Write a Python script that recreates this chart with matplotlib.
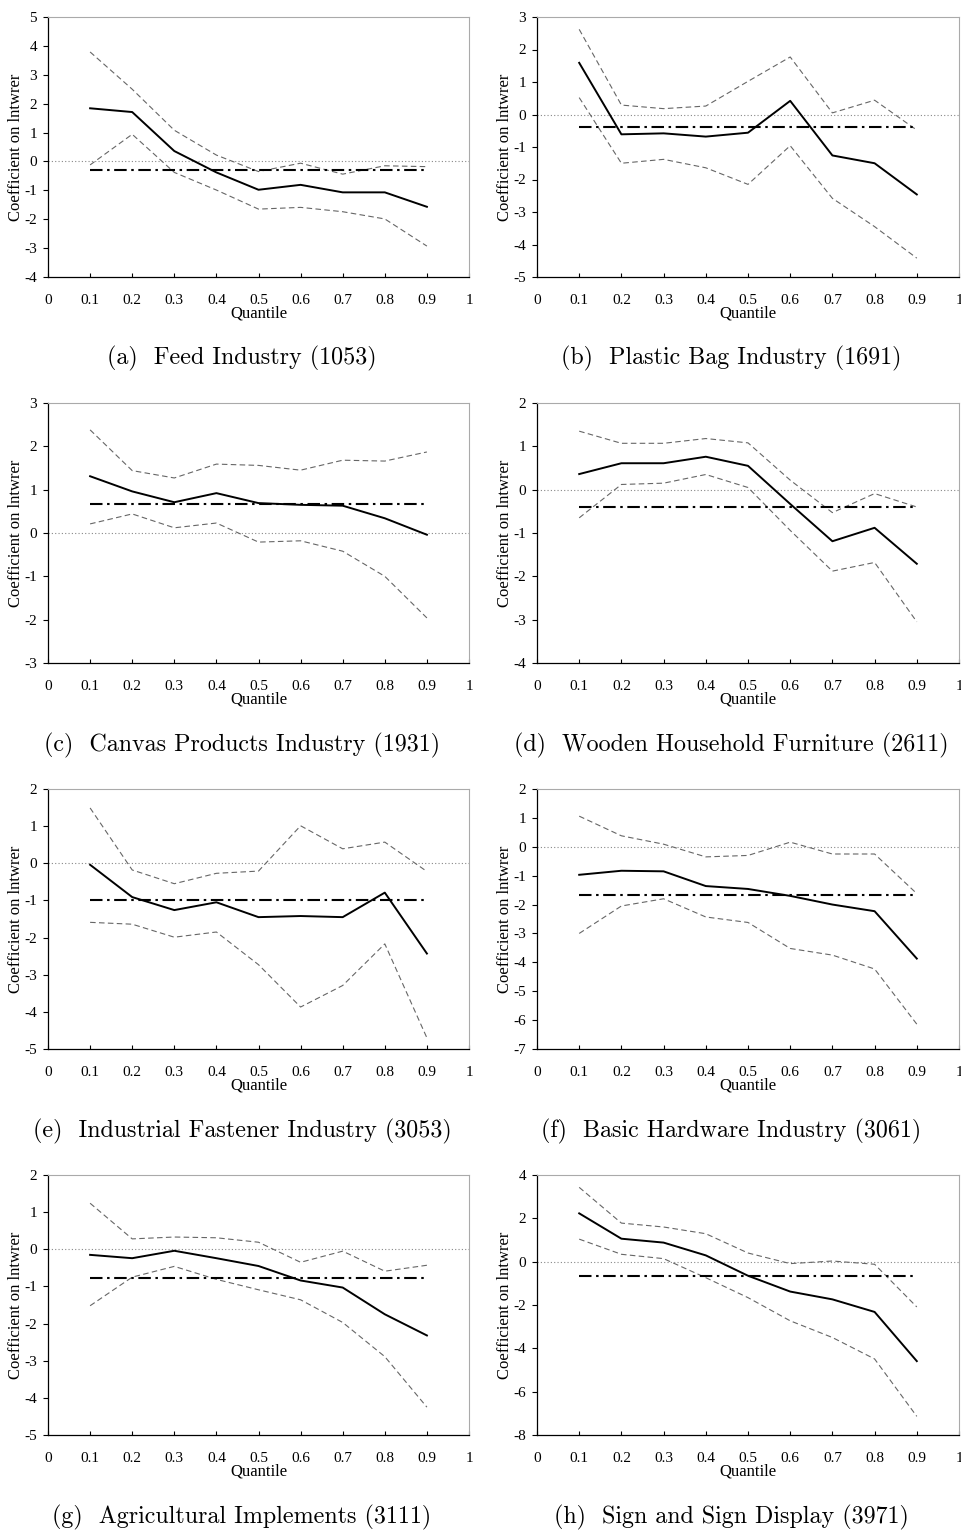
import numpy as np
import matplotlib
matplotlib.use('Agg')
import matplotlib.pyplot as plt

plt.rcParams['font.family'] = ['Liberation Serif', 'DejaVu Serif']
plt.rcParams['axes.unicode_minus'] = False

quantiles = [0.1, 0.2, 0.3, 0.4, 0.5, 0.6, 0.7, 0.8, 0.9]

# (a) Feed Industry
feed_coef = [1.84, 1.71, 0.36, -0.38, -0.98, -0.81, -1.07, -1.07, -1.57]
feed_hi = [3.79, 2.50, 1.08, 0.22, -0.35, -0.06, -0.44, -0.15, -0.18]
feed_lo = [-0.12, 0.94, -0.38, -0.99, -1.65, -1.59, -1.74, -1.99, -2.93]
feed_ols = -0.28

# (b) Plastic Bag Industry
bag_coef = [1.59, -0.61, -0.58, -0.68, -0.56, 0.42, -1.26, -1.50, -2.46]
bag_hi = [2.62, 0.29, 0.18, 0.26, 1.02, 1.77, 0.05, 0.44, -0.48]
bag_lo = [0.52, -1.50, -1.38, -1.64, -2.15, -0.96, -2.58, -3.45, -4.42]
bag_ols = -0.39

# (c) Canvas Products Industry
canvas_coef = [1.31, 0.96, 0.71, 0.92, 0.69, 0.65, 0.63, 0.34, -0.04]
canvas_hi = [2.38, 1.44, 1.27, 1.59, 1.56, 1.45, 1.68, 1.66, 1.87]
canvas_lo = [0.21, 0.44, 0.12, 0.23, -0.21, -0.18, -0.42, -1.00, -1.96]
canvas_ols = 0.68

# (d) Wooden Household Furniture
wood_coef = [0.36, 0.61, 0.61, 0.76, 0.55, -0.33, -1.19, -0.88, -1.71]
wood_hi = [1.35, 1.07, 1.07, 1.18, 1.08, 0.22, -0.53, -0.09, -0.40]
wood_lo = [-0.65, 0.12, 0.15, 0.35, 0.05, -0.94, -1.88, -1.68, -3.05]
wood_ols = -0.40

# (e) Industrial Fastener Industry
fast_coef = [-0.04, -0.91, -1.26, -1.05, -1.45, -1.42, -1.45, -0.79, -2.43]
fast_hi = [1.49, -0.18, -0.55, -0.27, -0.21, 1.01, 0.39, 0.57, -0.22]
fast_lo = [-1.59, -1.64, -1.99, -1.85, -2.73, -3.87, -3.29, -2.17, -4.70]
fast_ols = -0.98

# (f) Basic Hardware Industry
hard_coef = [-0.97, -0.83, -0.85, -1.36, -1.46, -1.70, -2.00, -2.23, -3.87]
hard_hi = [1.06, 0.38, 0.09, -0.35, -0.30, 0.16, -0.25, -0.25, -1.62]
hard_lo = [-3.00, -2.05, -1.80, -2.43, -2.62, -3.52, -3.75, -4.23, -6.14]
hard_ols = -1.66

# (g) Agricultural Implements
agri_coef = [-0.15, -0.24, -0.04, -0.24, -0.45, -0.84, -1.03, -1.75, -2.32]
agri_hi = [1.24, 0.28, 0.33, 0.31, 0.19, -0.35, -0.05, -0.59, -0.43]
agri_lo = [-1.52, -0.75, -0.46, -0.81, -1.09, -1.36, -1.97, -2.89, -4.25]
agri_ols = -0.77

# (h) Sign and Sign Display
sign_coef = [2.23, 1.06, 0.88, 0.29, -0.65, -1.38, -1.74, -2.32, -4.59]
sign_hi = [3.43, 1.78, 1.60, 1.29, 0.40, -0.09, 0.03, -0.12, -2.09]
sign_lo = [1.04, 0.34, 0.14, -0.74, -1.66, -2.73, -3.50, -4.49, -7.14]
sign_ols = -0.66

captions = ['(a)  Feed Industry (1053)', '(b)  Plastic Bag Industry (1691)',
            '(c)  Canvas Products Industry (1931)', '(d)  Wooden Household Furniture (2611)',
            '(e)  Industrial Fastener Industry (3053)', '(f)  Basic Hardware Industry (3061)',
            '(g)  Agricultural Implements (3111)', '(h)  Sign and Sign Display (3971)']
ylims = [(-4, 5), (-5, 3), (-3, 3), (-4, 2), (-5, 2), (-7, 2), (-5, 2), (-8, 4)]
ysteps = [1, 1, 1, 1, 1, 1, 1, 2]

panels = [(feed_coef, feed_hi, feed_lo, feed_ols),
          (bag_coef, bag_hi, bag_lo, bag_ols),
          (canvas_coef, canvas_hi, canvas_lo, canvas_ols),
          (wood_coef, wood_hi, wood_lo, wood_ols),
          (fast_coef, fast_hi, fast_lo, fast_ols),
          (hard_coef, hard_hi, hard_lo, hard_ols),
          (agri_coef, agri_hi, agri_lo, agri_ols),
          (sign_coef, sign_hi, sign_lo, sign_ols)]

W, H = 962, 1533
fig = plt.figure(figsize=(W / 100, H / 100), dpi=100)

lefts = [48, 537]
widths = [421, 422]
tops = [17, 403, 789, 1175]
ax_h = 260
cap_x = [242, 731]
cap_y = [358, 745, 1131, 1517]

xticks = np.arange(0, 1.01, 0.1)
xlabels = ['0'] + ['%.1f' % v for v in xticks[1:-1]] + ['1']

for i, (coef, hi, lo, ols) in enumerate(panels):
    r, c = divmod(i, 2)
    ax = fig.add_axes([lefts[c] / W, 1 - (tops[r] + ax_h) / H, widths[c] / W, ax_h / H])
    ax.axhline(0, color='#888888', lw=0.8, ls=(0, (1, 2)))
    ax.plot(quantiles, hi, color='#666666', lw=0.8, ls=(0, (5, 3)))
    ax.plot(quantiles, lo, color='#666666', lw=0.8, ls=(0, (5, 3)))
    ax.plot([quantiles[0], quantiles[-1]], [ols, ols], color='black', lw=1.5,
            ls=(0, (6, 2.2, 1.2, 2.2)))
    ax.plot(quantiles, coef, color='black', lw=1.4)

    ax.set_xlim(0, 1)
    ax.set_ylim(*ylims[i])
    ax.set_xticks(xticks)
    ax.set_xticklabels(xlabels)
    ax.set_yticks(np.arange(ylims[i][0], ylims[i][1] + 0.1, ysteps[i]))
    ax.tick_params(axis='x', direction='in', length=3, labelsize=11, pad=12)
    ax.tick_params(axis='y', direction='out', length=3.5, labelsize=11, pad=4.5)
    for s in ['top', 'right']:
        ax.spines[s].set_color('#aaaaaa')
        ax.spines[s].set_linewidth(0.8)
    for s in ['left', 'bottom']:
        ax.spines[s].set_linewidth(0.9)
    ax.set_xlabel('Quantile', fontsize=12, labelpad=-1)
    ax.set_ylabel('Coefficient on lntwrer', fontsize=12)
    ax.yaxis.set_label_coords(-24 / widths[c], 0.5)

    fig.text(cap_x[c] / W, 1 - cap_y[r] / H, captions[i], ha='center', va='center',
             family='cmr10', fontsize=17.3)

fig.savefig('out.png', dpi=100)
